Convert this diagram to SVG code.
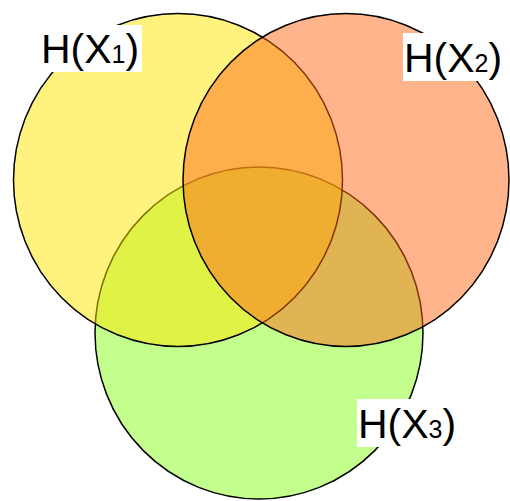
<svg xmlns="http://www.w3.org/2000/svg" width="510" height="501" viewBox="0 0 510 501">
<style>
.c{stroke:#000;stroke-width:1.5}
.bg{fill:#fff}
.t{font-family:"Liberation Sans",Arial,sans-serif;font-size:41px;fill:#000}
.s{font-size:25px}
</style>
<rect width="510" height="501" fill="#fff"/>
<g id="circles">
<ellipse id="x3" class="c" cx="259" cy="333" rx="164" ry="166" fill="#88ff1a" fill-opacity="0.5"/>
<ellipse id="x1" class="c" cx="178" cy="180" rx="164.5" ry="166.5" fill="#ffe600" fill-opacity="0.5"/>
<ellipse id="x2" class="c" cx="346" cy="180" rx="163" ry="166.5" fill="#ff6a1a" fill-opacity="0.5"/>
</g>
<g id="label1">
<rect class="bg" x="38" y="25" width="104" height="47"/>
<text class="t" x="41" y="63">H(X<tspan class="s">1</tspan>)</text>
</g>
<g id="label2">
<rect class="bg" x="403" y="33" width="75" height="48"/>
<text class="t" x="404" y="72">H(X<tspan class="s">2</tspan>)</text>
</g>
<g id="label3">
<rect class="bg" x="357" y="399" width="80" height="48"/>
<text class="t" x="358" y="438">H(X<tspan class="s">3</tspan>)</text>
</g>
</svg>
